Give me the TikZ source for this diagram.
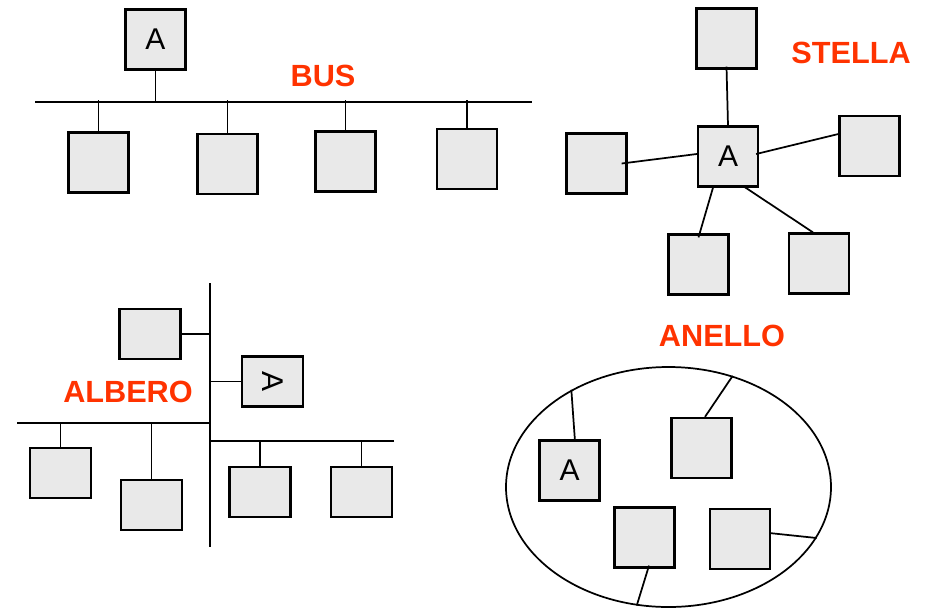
\documentclass[tikz,border=0pt]{standalone}
\usepackage{fontspec}
\setmainfont{Liberation Sans}
\usepackage{graphicx}
\usetikzlibrary{calc,shapes.geometric}
\definecolor{hostgray}{HTML}{E9E9E9}
\definecolor{topored}{HTML}{FF3300}
\tikzset{
  host/.style={draw, line width=1.7pt, fill=hostgray, inner sep=0pt,
    minimum width=45pt, minimum height=45pt, font=\fontsize{22.5}{26}\selectfont},
  flathost/.style={host, minimum width=45.75pt, minimum height=37.5pt},
  wire/.style={line width=1.3pt},
  topotitle/.style={text=topored, inner sep=0pt, font=\bfseries\fontsize{23}{28}\selectfont}
}
\begin{document}
\begin{tikzpicture}[x=0.75pt,y=-0.75pt]
\useasboundingbox (0,0) rectangle (925,608);

% bus
\coordinate (busL) at (35,102);
\coordinate (busR) at (532,102);
\draw[wire] (busL) -- (busR);
\node[host] (busA) at (155.5,39.5) {A};
\node[host] (bus1) at (98.5,162.5) {};
\node[host] (bus2) at (227.5,164) {};
\node[host] (bus3) at (345.5,161.5) {};
\node[host] (bus4) at (467,159) {};
\draw[wire] (busA.south) -- (busA.south |- busL);
\foreach \n in {1,...,4}
  \draw[wire] (bus\n.north) -- ($(bus\n.north |- busL)+(0,-2)$);
\node[topotitle] (busT) at (323,76) {BUS};

% stella
\node[host] (starA) at (728,156.5) {A};
\node[host] (star0) at (726.5,38.5) {};
\node[host] (star1) at (596.5,163.5) {};
\node[host] (star2) at (869.5,146) {};
\node[host] (star3) at (698.5,264.5) {};
\node[host] (star4) at (819,263.5) {};
\draw[wire] ($(star0.south)+(0,-3)$) -- (starA.north);
\draw[wire] ($(star1.east)+(-6,0)$) -- ($(starA.west)+(0,-2.5)$);
\draw[wire] ($(starA.east)+(-3,-2.5)$) -- ($(star2.west)+(0,-12)$);
\draw[wire] ($(starA.south)+(-15,0)$) -- ($(star3.north)+(0,4)$);
\draw[wire] ($(starA.south)+(16,-1)$) -- ($(star4.north)+(-6,0)$);
\node[topotitle] (starT) at (851,53) {STELLA};

% albero
\coordinate (trunkT) at (210,283);
\coordinate (trunkB) at (210,547);
\coordinate (leafL) at (17,423);
\coordinate (leafR) at (394,441);
\draw[wire] (trunkT) -- (trunkB);
\draw[wire] (leafL) -- (leafL -| trunkT);
\draw[wire] (leafR) -- (leafR -| trunkT);
\node[flathost] (tree1) at (150,334) {};
\node[flathost] (treeA) at (272.5,381.5) {\rotatebox{-90}{A}};
\node[flathost] (tree2) at (60.5,473) {};
\node[flathost] (tree3) at (151.5,505) {};
\node[flathost] (tree4) at (260,492) {};
\node[flathost] (tree5) at (361.5,492) {};
\draw[wire] (tree1.east) -- (tree1.east -| trunkT);
\draw[wire] (treeA.west) -- (treeA.west -| trunkT);
\draw[wire] (tree2.north) -- (tree2.north |- leafL);
\draw[wire] (tree3.north) -- (tree3.north |- leafL);
\draw[wire] (tree4.north) -- (tree4.north |- leafR);
\draw[wire] (tree5.north) -- (tree5.north |- leafR);
\node[topotitle] (treeT) at (128,392) {ALBERO};

% anello
\node[draw, line width=1.3pt, ellipse, inner sep=0pt, minimum width=243.75pt,
  minimum height=180pt] (ring) at (668.5,487) {};
\node[host] (ringA) at (569.5,470.5) {A};
\node[host] (ring1) at (701.5,448) {};
\node[host] (ring2) at (644.5,537.5) {};
\node[host] (ring3) at (740,539) {};
\draw[wire] ($(ringA.north)+(5.5,2)$) -- (ring.135);
\draw[wire] ($(ring1.north)+(3.5,0)$) -- (ring.60);
\draw[wire] ($(ring2.south)+(4.5,-3)$) -- (ring.255);
\draw[wire] ($(ring3.east)+(-2,-6)$) -- (ring.341);
\node[topotitle] (ringT) at (722,336) {ANELLO};
\end{tikzpicture}
\end{document}
